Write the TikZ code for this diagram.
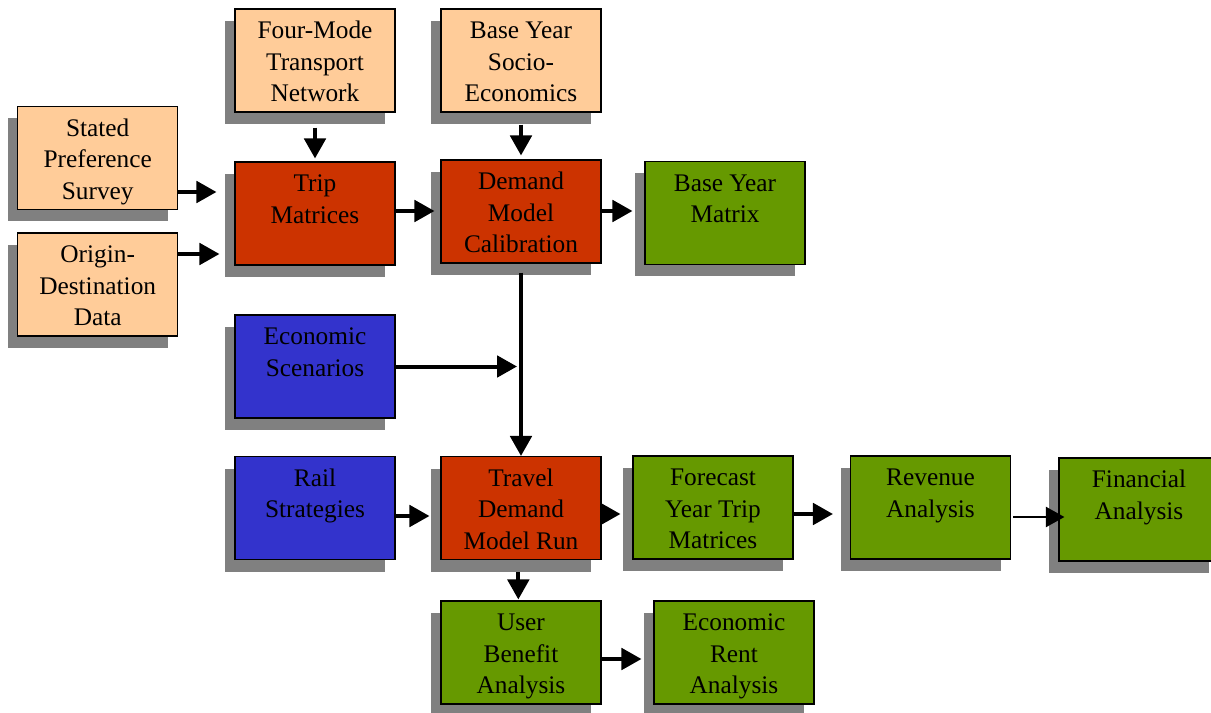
\documentclass[tikz,border=0pt]{standalone}
\usepackage{fontspec}
\setmainfont{Liberation Serif}
\usepackage{tikz}
\usetikzlibrary{arrows.meta,shadows}
\definecolor{cin}{RGB}{255,204,153}
\definecolor{cproc}{RGB}{204,51,0}
\definecolor{cscen}{RGB}{51,51,204}
\definecolor{cout}{RGB}{102,153,0}
\definecolor{cshd}{RGB}{128,128,128}
\newcommand{\bxt}[1]{\parbox[c][77.25pt][t]{120pt}{\centering\vspace*{6pt}\strut#1}}

\begin{document}
\begin{tikzpicture}[x=0.75pt,y=-0.75pt,
  blk/.style={draw,line width=0.8pt,inner sep=0pt,
              font=\fontsize{19}{23.5}\selectfont,
              drop shadow={shadow xshift=-7.5pt,shadow yshift=-9pt,fill=cshd,opacity=1}},
  flow/.style={-{Triangle[length=15pt,width=16pt]},line width=3pt},
  thinflow/.style={-{Triangle[length=14pt,width=15pt]},line width=2pt}
]
\useasboundingbox (0,0) rectangle (1211,713);
\node[blk,fill=cin] (stated) at (97.7,158) {\bxt{Stated\\Preference\\Survey}};
\node[blk,fill=cin] (origin) at (97.7,284.5) {\bxt{Origin-\\Destination\\Data}};
\node[blk,fill=cin] (network) at (315,60.5) {\bxt{Four-Mode\\Transport\\Network}};
\node[blk,fill=cin] (socio) at (521,60.5) {\bxt{Base Year\\Socio-\\Economics}};
\node[blk,fill=cproc] (trip) at (315,213.5) {\bxt{Trip\\Matrices}};
\node[blk,fill=cproc] (calib) at (521,211.5) {\bxt{Demand\\Model\\Calibration}};
\node[blk,fill=cout] (basemat) at (725,213) {\bxt{Base Year\\Matrix}};
\node[blk,fill=cscen] (econ) at (315,366.5) {\bxt{Economic\\Scenarios}};
\node[blk,fill=cscen] (rail) at (315,508) {\bxt{Rail\\Strategies}};
\node[blk,fill=cproc] (travel) at (521,508) {\bxt{Travel\\Demand\\Model Run}};
\node[blk,fill=cout] (forecast) at (713,507.5) {\bxt{Forecast\\Year Trip\\Matrices}};
\node[blk,fill=cout] (revenue) at (930.5,507.5) {\bxt{Revenue\\Analysis}};
\node[blk,fill=cout] (financial) at (1139,509.5) {\bxt{Financial\\Analysis}};
\node[blk,fill=cout] (benefit) at (521,652.5) {\bxt{User\\Benefit\\Analysis}};
\node[blk,fill=cout] (rent) at (734,652.5) {\bxt{Economic\\Rent\\Analysis}};
\coordinate (join) at (calib.south |- econ.east);
\draw[flow,shorten >=13.5pt] (stated.east |- 0,192) -- (trip.west |- 0,192);
\draw[flow,shorten >=11.25pt] (origin.east |- 0,254) -- (trip.west |- 0,254);
\draw[flow,shorten <=11.25pt,shorten >=2.25pt] (network.south) -- (trip.north);
\draw[flow,shorten <=9pt,shorten >=3pt] (socio.south) -- (calib.north);
\draw[flow,shorten >=4.5pt] (trip.east |- 0,211) -- (calib.west |- 0,211);
\draw[flow,shorten >=9pt] (calib.east |- 0,211) -- (basemat.west |- 0,211);
\draw[flow,shorten <=6.75pt] (calib.south) -- (travel.north);
\draw[flow,shorten >=3pt] (econ.east) -- (join);
\draw[flow,shorten >=8.25pt] (rail.east |- 0,516) -- (travel.west |- 0,516);
\draw[flow,shorten >=9pt] (travel.east |- 0,514) -- (forecast.west |- 0,514);
\draw[flow,shorten >=12.75pt] (forecast.east |- 0,514) -- (revenue.west |- 0,514);
\draw[thinflow,shorten <=1.5pt,shorten >=-4.5pt] (revenue.east |- 0,517) -- (financial.west |- 0,517);
\draw[flow,shorten <=9pt,shorten >=0.75pt] ([xshift=-2pt]travel.south) -- ([xshift=-2pt]benefit.north);
\draw[flow,shorten >=9pt] (benefit.east |- 0,659) -- (rent.west |- 0,659);
\end{tikzpicture}
\end{document}
